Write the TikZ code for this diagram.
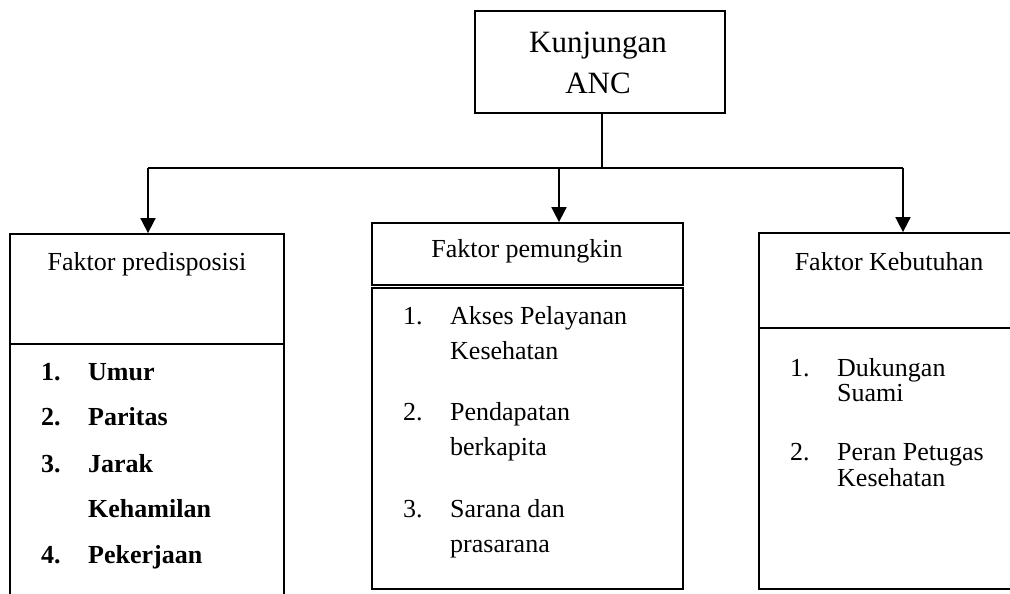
\documentclass[tikz,border=0pt]{standalone}
\usepackage{fontspec}
\setmainfont{Liberation Serif}
\usetikzlibrary{arrows.meta}
\begin{document}
\begin{tikzpicture}[x=1pt,y=-1pt,
  box/.style={draw=black,line width=1.8pt,rectangle,inner sep=0pt},
  txt/.style={inner sep=0pt,font=\fontsize{26}{31}\selectfont},
  btxt/.style={inner sep=0pt,font=\fontsize{26}{31}\selectfont\bfseries},
  conn/.style={line width=1.8pt},
  arr/.style={line width=1.8pt,-{Triangle[width=15pt,length=15pt]}}]
\clip (0,0) rectangle (1010,594);
\fill[white] (0,0) rectangle (1010,594);
% top box
\node[box,minimum width=250pt,minimum height=102pt] (anc) at (600,62) {};
\node[inner sep=0pt,font=\fontsize{31}{37}\selectfont,anchor=base] (t1) at (598,53) {Kunjungan};
\node[inner sep=0pt,font=\fontsize{31}{37}\selectfont,anchor=base] (t2) at (598,94) {ANC};
% left boxes
\node[box,minimum width=274pt,minimum height=110pt] (prehead) at (147,289) {};
\node[box,minimum width=274pt,minimum height=280pt] (prelist) at (147,484) {};
\node[txt,anchor=base] (preT) at (147,270) {Faktor predisposisi};
\node[btxt,anchor=base west] (p1n) at (41,380) {1.};
\node[btxt,anchor=base west] (p1) at (88,380) {Umur};
\node[btxt,anchor=base west] (p2n) at (41,425) {2.};
\node[btxt,anchor=base west] (p2) at (88,425) {Paritas};
\node[btxt,anchor=base west] (p3n) at (41,472) {3.};
\node[btxt,anchor=base west] (p3) at (88,472) {Jarak};
\node[btxt,anchor=base west] (p3b) at (88,517) {Kehamilan};
\node[btxt,anchor=base west] (p4n) at (41,563) {4.};
\node[btxt,anchor=base west] (p4) at (88,563) {Pekerjaan};
% middle boxes
\node[box,minimum width=311pt,minimum height=62pt] (pemhead) at (527.5,254) {};
\node[box,minimum width=311pt,minimum height=301pt] (pemlist) at (527.5,438.5) {};
\node[txt,anchor=base] (pemT) at (527,257) {Faktor pemungkin};
\node[txt,anchor=base west] (m1n) at (403,324) {1.};
\node[txt,anchor=base west] (m1) at (450,324) {Akses Pelayanan};
\node[txt,anchor=base west] (m1b) at (450,359) {Kesehatan};
\node[txt,anchor=base west] (m2n) at (403,420) {2.};
\node[txt,anchor=base west] (m2) at (450,420) {Pendapatan};
\node[txt,anchor=base west] (m2b) at (450,455) {berkapita};
\node[txt,anchor=base west] (m3n) at (403,517) {3.};
\node[txt,anchor=base west] (m3) at (450,517) {Sarana dan};
\node[txt,anchor=base west] (m3b) at (450,552) {prasarana};
% right boxes
\node[box,minimum width=270pt,minimum height=95pt] (kebhead) at (894,280.5) {};
\node[box,minimum width=270pt,minimum height=261pt] (keblist) at (894,458.5) {};
\node[txt,anchor=base] (kebT) at (889,270) {Faktor Kebutuhan};
\node[txt,anchor=base west] (k1n) at (790,376) {1.};
\node[txt,anchor=base west] (k1) at (837,376) {Dukungan};
\node[txt,anchor=base west] (k1b) at (837,401) {Suami};
\node[txt,anchor=base west] (k2n) at (790,460) {2.};
\node[txt,anchor=base west] (k2) at (837,460) {Peran Petugas};
\node[txt,anchor=base west] (k2b) at (837,486) {Kesehatan};
% connectors
\coordinate (j) at (602,168);
\coordinate (jl) at (148,168);
\coordinate (jm) at (559,168);
\coordinate (jr) at (903,168);
\draw[conn] (anc.south -| j) -- (j);
\draw[conn] (jl) -- (jr);
\draw[arr] (jl) -- (jl |- prehead.north);
\draw[arr] (jm) -- (jm |- pemhead.north);
\draw[arr] (jr) -- (jr |- kebhead.north);
\end{tikzpicture}
\end{document}
